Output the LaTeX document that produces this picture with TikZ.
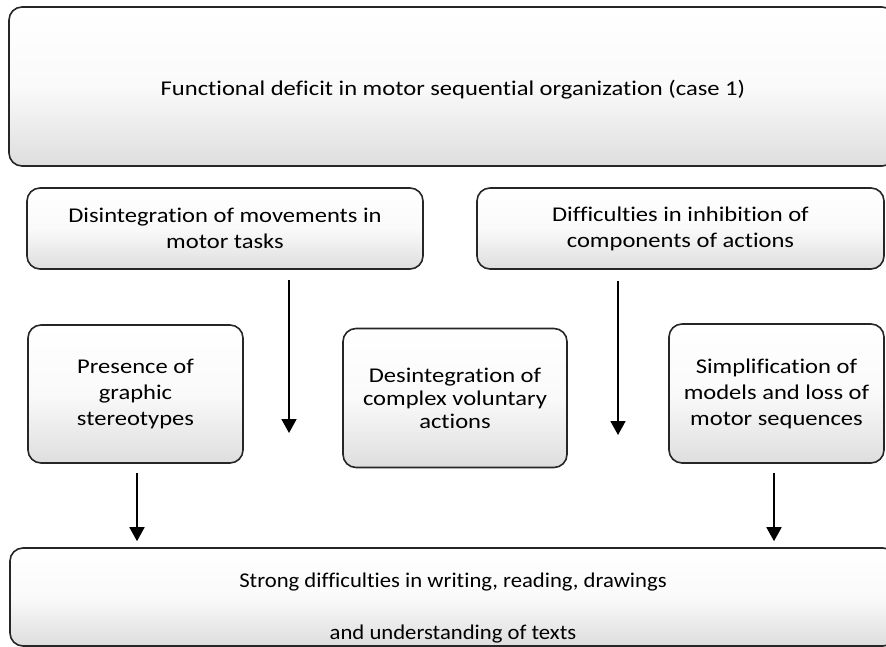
\documentclass[tikz,border=0pt]{standalone}
\usepackage{fontspec}
\setmainfont[FakeStretch=1.17,Ligatures=NoCommon]{Carlito}
\newfontfamily\botfont[FakeStretch=1.08,Ligatures=NoCommon]{Carlito}
\usetikzlibrary{arrows.meta}
\begin{document}
\begin{tikzpicture}[x=1pt,y=-1pt,
  box/.style={draw=black!85, line width=1.6pt, rounded corners=13pt,
    top color=white, bottom color=black!13, middle color=black!2,
    align=center, inner sep=0pt, font=\fontsize{21}{26}\selectfont},
  lbl/.style={font=\fontsize{21}{26}\selectfont, inner sep=0pt, anchor=base},
  arr/.style={line width=1.8pt, -{Triangle[width=15pt,length=14pt]}}]
\useasboundingbox (0,0) rectangle (886,647);
\clip (0,0) rectangle (886,647);
% top box
\node[box, minimum width=886pt, minimum height=159pt] (top) at (452,86.5) {};
\node[lbl] (toptext) at (453,96) {Functional deficit in motor sequential organization (case 1)};
% second row
\node[box, minimum width=396pt, minimum height=81pt] (A) at (225,228.5)
  {Disintegration of movements in\\motor tasks};
\node[box, minimum width=407pt, minimum height=81pt] (B) at (680.5,228.5)
  {Difficulties in inhibition of\\components of actions};
% third row
\node[box, minimum width=215pt, minimum height=138pt] (C) at (135.5,394)
  {Presence of\\graphic\\stereotypes};
\node[box, minimum width=224pt, minimum height=139pt, font=\fontsize{21}{23}\selectfont] (D) at (455,398)
  {Desintegration of\\complex voluntary\\actions};
\node[box, minimum width=215pt, minimum height=139pt] (E) at (776.5,393.5)
  {Simplification of\\models and loss of\\motor sequences};
% bottom box
\node[box, minimum width=886pt, minimum height=98pt] (bot) at (453,597) {};
\node[lbl, font=\botfont\fontsize{21}{26}\selectfont] (bt1) at (453,587) {Strong difficulties in writing, reading, drawings};
\node[lbl, font=\botfont\fontsize{21}{26}\selectfont] (bt2) at (453,639) {and understanding of texts};
% arrows
\coordinate (e1) at (289,433);
\coordinate (e2) at (618,435);
\draw[arr] ([xshift=64pt,yshift=-10pt]A.south) -- (e1);
\draw[arr] ([xshift=-62.5pt,yshift=-11pt]B.south) -- (e2);
\draw[arr] ([xshift=1.5pt,yshift=-9pt]C.south) -- ([yshift=6pt]bot.north -| 137,0);
\draw[arr] ([xshift=-2.5pt,yshift=-9pt]E.south) -- ([yshift=6pt]bot.north -| 774,0);
\end{tikzpicture}
\end{document}
